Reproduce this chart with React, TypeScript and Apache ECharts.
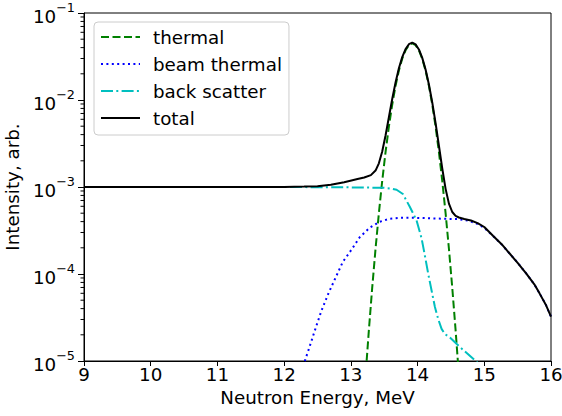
import React, { useEffect, useRef } from "react";
import * as echarts from "echarts";

// ---- data ----
const xMin = 9;
const xMax = 16;
const yMin = 1e-5;
const yMax = 1e-1;

const seriesNames = ["thermal", "beam thermal", "back scatter", "total"];

const thermalE = [13.2, 13.22, 13.27, 13.32, 13.37, 13.42, 13.47, 13.52, 13.57, 13.62, 13.67, 13.72, 13.77, 13.82, 13.87, 13.92, 13.97, 14.02, 14.07, 14.12, 14.17, 14.22, 14.27, 14.32, 14.37, 14.42, 14.47, 14.52, 14.57, 14.62, 14.64];
const thermalI = [4.04e-6, 6.73e-6, 2.26e-5, 6.95e-5, 1.95e-4, 5.01e-4, 1.176e-3, 2.52e-3, 4.95e-3, 8.87e-3, 1.454e-2, 2.18e-2, 2.98e-2, 3.73e-2, 4.27e-2, 4.47e-2, 4.27e-2, 3.73e-2, 2.98e-2, 2.18e-2, 1.454e-2, 8.87e-3, 4.95e-3, 2.52e-3, 1.176e-3, 5.01e-4, 1.95e-4, 6.95e-5, 2.26e-5, 6.73e-6, 4.04e-6];

const beamE = [12.28, 12.31, 12.38, 12.46, 12.56, 12.66, 12.76, 12.88, 13.01, 13.13, 13.28, 13.43, 13.58, 13.75, 13.93, 14.2, 14.4, 14.6, 14.75, 14.885, 15.0, 15.135, 15.26, 15.385, 15.51, 15.635, 15.75, 15.835, 15.92, 16.0];
const beamI = [8.71e-6, 1.0e-5, 1.445e-5, 2.24e-5, 3.8e-5, 5.89e-5, 8.71e-5, 1.38e-4, 1.905e-4, 2.63e-4, 3.39e-4, 3.98e-4, 4.31e-4, 4.42e-4, 4.43e-4, 4.37e-4, 4.31e-4, 4.28e-4, 4.12e-4, 3.8e-4, 3.39e-4, 2.72e-4, 2.19e-4, 1.7e-4, 1.32e-4, 1.0e-4, 7.59e-5, 5.89e-5, 4.47e-5, 3.24e-5];

const backE = [9, 12.0, 12.5, 13.0, 13.5, 13.6, 13.685, 13.78, 13.885, 13.985, 14.06, 14.11, 14.16, 14.21, 14.26, 14.31, 14.36, 14.41, 14.485, 14.635, 14.86, 14.9];
const backI = [1.0e-3, 1.0e-3, 9.95e-4, 9.9e-4, 9.8e-4, 9.6e-4, 9.3e-4, 8.3e-4, 5.89e-4, 4.12e-4, 2.57e-4, 1.62e-4, 1.0e-4, 6.46e-5, 4.17e-5, 3.02e-5, 2.34e-5, 2.04e-5, 1.86e-5, 1.445e-5, 1.02e-5, 9.5e-6];

const totalE = [9, 10, 11, 12, 12.3, 12.5, 12.7, 12.9, 13.1, 13.2, 13.3, 13.37, 13.42, 13.47, 13.52, 13.57, 13.62, 13.67, 13.72, 13.77, 13.82, 13.87, 13.92, 13.97, 14.02, 14.07, 14.12, 14.17, 14.22, 14.27, 14.32, 14.37, 14.42, 14.47, 14.52, 14.57, 14.62, 14.7, 14.8, 14.9, 15.0, 15.13, 15.26, 15.38, 15.5, 15.63, 15.75, 15.83, 15.92, 16.0];
const totalI = [1.0e-3, 1.0e-3, 1.0e-3, 1.0e-3, 1.01e-3, 1.023e-3, 1.064e-3, 1.135e-3, 1.235e-3, 1.284e-3, 1.37e-3, 1.545e-3, 1.871e-3, 2.556e-3, 3.91e-3, 6.34e-3, 1.026e-2, 1.591e-2, 2.312e-2, 3.108e-2, 3.847e-2, 4.379e-2, 4.569e-2, 4.36e-2, 3.807e-2, 3.048e-2, 2.241e-2, 1.507e-2, 9.37e-3, 5.43e-3, 2.98e-3, 1.631e-3, 9.52e-4, 6.44e-4, 5.16e-4, 4.65e-4, 4.46e-4, 4.28e-4, 4.12e-4, 3.85e-4, 3.47e-4, 2.75e-4, 2.2e-4, 1.72e-4, 1.34e-4, 1.01e-4, 7.6e-5, 5.95e-5, 4.47e-5, 3.24e-5];

const minorTicks = [
  2e-5, 3e-5, 4e-5, 5e-5, 6e-5, 7e-5, 8e-5, 9e-5,
  2e-4, 3e-4, 4e-4, 5e-4, 6e-4, 7e-4, 8e-4, 9e-4,
  2e-3, 3e-3, 4e-3, 5e-3, 6e-3, 7e-3, 8e-3, 9e-3,
  2e-2, 3e-2, 4e-2, 5e-2, 6e-2, 7e-2, 8e-2, 9e-2,
];

const FONT = "DejaVu Sans";
const FS = 18.3;

const pairs = (xs: number[], ys: number[]) => xs.map((x, i) => [x, ys[i]]);

export default function App() {
  const ref = useRef<HTMLDivElement>(null);

  useEffect(() => {
    if (!ref.current) return;
    const chart = echarts.init(ref.current, undefined, { renderer: "svg" });

    const lineBase = (name: string, data: number[][], color: string, type: any, z: number) => ({
      name,
      type: "line",
      data,
      showSymbol: false,
      symbol: "none",
      z,
      clip: true,
      lineStyle: { color, width: 2, type },
      itemStyle: { color },
    });

    chart.setOption({
      animation: false,
      backgroundColor: "#ffffff",
      textStyle: { fontFamily: FONT },
      grid: {
        left: 84,
        right: 11,
        top: 13,
        bottom: 55,
        containLabel: false,
        outerBoundsMode: "none",
        show: true,
        borderColor: "#000",
        borderWidth: 1,
        backgroundColor: "transparent",
      },
      legend: {
        data: seriesNames,
        orient: "vertical",
        left: 94,
        top: 22,
        itemWidth: 39,
        itemHeight: 14,
        itemGap: 7,
        padding: [5, 7, 7, 6],
        borderColor: "#cccccc",
        borderWidth: 1,
        borderRadius: 4,
        backgroundColor: "rgba(255,255,255,0.8)",
        itemStyle: { opacity: 0 },
        textStyle: {
          fontFamily: FONT,
          fontSize: FS,
          color: "#000",
          lineHeight: 20,
          padding: [0, 0, 0, 8],
        },
      },
      xAxis: {
        type: "value",
        min: xMin,
        max: xMax,
        interval: 1,
        name: "Neutron Energy, MeV",
        nameLocation: "middle",
        nameGap: 27,
        nameTextStyle: { fontFamily: FONT, fontSize: FS, color: "#000" },
        axisLine: { show: true, lineStyle: { color: "#000", width: 1 } },
        axisTick: { show: true, length: 5, lineStyle: { color: "#000" } },
        axisLabel: { fontFamily: FONT, fontSize: FS, color: "#000", margin: 4 },
        splitLine: { show: false },
      },
      yAxis: {
        type: "log",
        logBase: 10,
        min: yMin,
        max: yMax,
        name: "Intensity, arb.",
        nameLocation: "middle",
        nameGap: 51,
        nameTextStyle: { fontFamily: FONT, fontSize: FS, color: "#000" },
        axisLine: { show: true, lineStyle: { color: "#000", width: 1 } },
        axisTick: { show: true, length: 6, lineStyle: { color: "#000" } },
        axisLabel: {
          margin: 9,
          formatter: (v: number) => {
            const e = Math.round(Math.log10(v));
            return `{b|10}{s|\u2212${Math.abs(e)}}`;
          },
          rich: {
            b: { fontFamily: FONT, fontSize: FS, color: "#000", lineHeight: 24, verticalAlign: "bottom" },
            s: { fontFamily: FONT, fontSize: 12.8, color: "#000", verticalAlign: "top" },
          },
        },
        splitLine: { show: false },
      },
      series: [
        lineBase(seriesNames[0], pairs(thermalE, thermalI), "#008000", [8, 3.5], 2),
        lineBase(seriesNames[1], pairs(beamE, beamI), "#0000ff", [2, 3.4], 3),
        lineBase(seriesNames[2], pairs(backE, backI), "#00bfbf", [12, 3.3, 2, 3.3], 4),
        lineBase(seriesNames[3], pairs(totalE, totalI), "#000000", "solid", 5),
        {
          type: "custom",
          silent: true,
          clip: false,
          z: 6,
          data: minorTicks.map((v) => [xMin, v]),
          renderItem: (params: any, api: any) => {
            const p = api.coord([api.value(0), api.value(1)]);
            return {
              type: "line",
              shape: { x1: p[0] - 3.5, y1: p[1], x2: p[0], y2: p[1] },
              style: { stroke: "#000", lineWidth: 1 },
            };
          },
        },
      ],
    });

    return () => chart.dispose();
  }, []);

  return (
    <div
      ref={ref}
      style={{ position: "fixed", left: 0, top: 0, width: 562, height: 416 }}
    />
  );
}
